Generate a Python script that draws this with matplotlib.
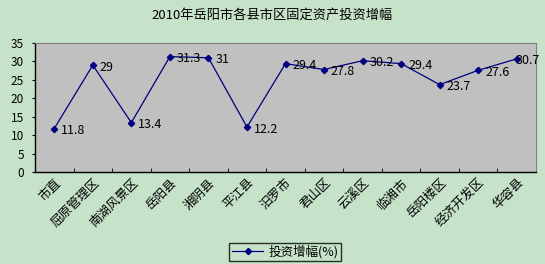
import matplotlib
matplotlib.use("Agg")
import matplotlib.pyplot as plt

plt.rcParams['font.family'] = ['Noto Sans CJK SC', 'DejaVu Sans']

categories = ["市直", "屈原管理区", "南湖风景区", "岳阳县", "湘阴县", "平江县", "汨罗市",
              "君山区", "云溪区", "临湘市", "岳阳楼区", "经济开发区", "华容县"]
values = [11.8, 29, 13.4, 31.3, 31, 12.2, 29.4, 27.8, 30.2, 29.4, 23.7, 27.6, 30.7]
labels = ["11.8", "29", "13.4", "31.3", "31", "12.2", "29.4", "27.8", "30.2", "29.4", "23.7", "27.6", "30.7"]
yticks = [0, 5, 10, 15, 20, 25, 30, 35]
title = "2010年岳阳市各县市区固定资产投资增幅"
series_name = "投资增幅(%)"

bg = "#C6E3CA"
fig = plt.figure(figsize=(5.45, 2.64), dpi=100, facecolor=bg)
ax = fig.add_axes([35/545, 1-172/264, (536-35)/545, (172-43)/264])
ax.set_facecolor("#C0C0C0")

x = list(range(len(categories)))
line, = ax.plot(x, values, color="#000080", lw=0.9, marker="D", ms=3.2,
                mfc="#000080", mec="#000080", label=series_name)
n = len(categories)
for xi, v, t in zip(x, values, labels):
    dx = 5 if xi < n - 1 else -1
    ax.annotate(t, (xi, v), xytext=(dx, -1.5), textcoords="offset points",
                fontsize=9, va="center", ha="left", color="black", annotation_clip=False)

ax.set_xlim(-0.5, n - 0.5)
ax.set_ylim(0, 35)
ax.set_yticks(yticks)
ax.set_yticklabels([str(t) for t in yticks], fontsize=8.5)
ax.set_xticks(x)
ax.set_xticklabels(categories, rotation=45, ha="right", rotation_mode="anchor", fontsize=9)
ax.tick_params(axis="x", length=0, pad=3)
ax.set_xticks([i + 0.5 for i in range(n - 1)], minor=True)
ax.tick_params(axis="x", which="minor", direction="in", length=3, color="black")
ax.tick_params(axis="y", direction="out", length=2, pad=6, color="black")

for s in ["top", "right"]:
    ax.spines[s].set_color("#808080")
    ax.spines[s].set_linewidth(0.8)
for s in ["left", "bottom"]:
    ax.spines[s].set_color("black")
    ax.spines[s].set_linewidth(1.0)

fig.text(0.5, 1 - 15/264, title, ha="center", va="center", fontsize=9.5)

leg = fig.legend(handles=[line], loc="center", bbox_to_anchor=(285/545, 1 - 252/264),
                 fontsize=9, frameon=True, fancybox=False, edgecolor="black",
                 handlelength=2.5, borderpad=0.2, handletextpad=0.4)
leg.get_frame().set_facecolor(bg)
leg.get_frame().set_linewidth(1.0)

fig.savefig("out.png", dpi=100, facecolor=bg)
